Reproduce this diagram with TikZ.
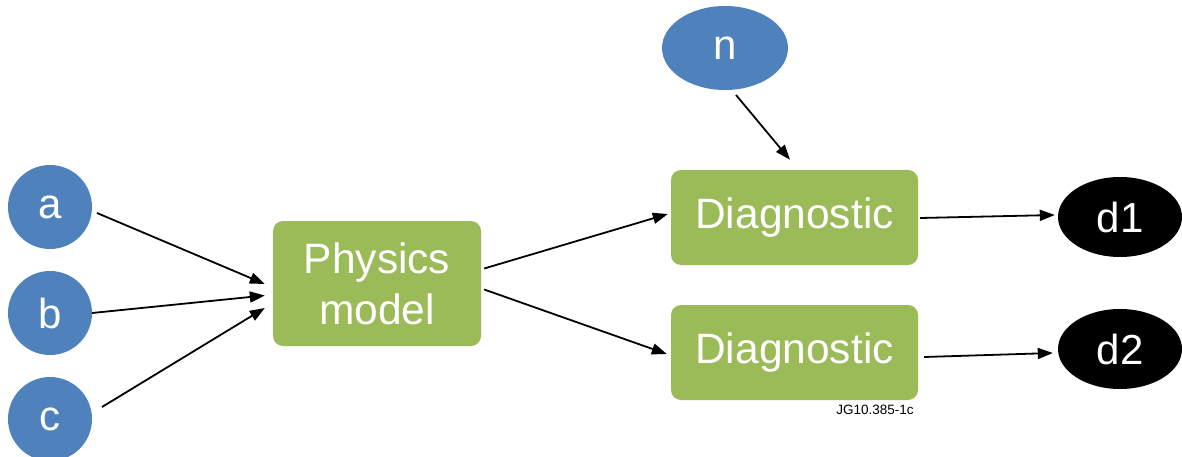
\documentclass[tikz,border=0pt]{standalone}
\usepackage{fontspec}
\setmainfont{Liberation Sans}
\usetikzlibrary{arrows.meta,calc,shapes.geometric}
\definecolor{nblue}{HTML}{4F81BD}
\definecolor{ngreen}{HTML}{9BBB59}
\begin{document}
\begin{tikzpicture}[x=1pt,y=-1pt,
  inp/.style={circle,fill=nblue,minimum size=84pt,inner sep=0pt,text=white,font=\fontsize{42}{48}\selectfont},
  noise/.style={ellipse,fill=nblue,minimum width=126pt,minimum height=84pt,inner sep=0pt,text=white,font=\fontsize{42}{48}\selectfont},
  outp/.style={ellipse,fill=black,minimum width=124pt,minimum height=80pt,inner sep=0pt,text=white,font=\fontsize{42}{48}\selectfont},
  box/.style={rectangle,rounded corners=10pt,fill=ngreen,inner sep=0pt,text=white,align=center,font=\fontsize{42.5}{51}\selectfont},
  arr/.style={line width=1.8pt,-{Triangle[length=15pt,width=11pt]}}]
\clip (0,0) rectangle (1182,457);
\useasboundingbox (0,0) rectangle (1182,457);
\node[inp] (a) at (50,207) {a};
\node[inp] (b) at (50,313) {b};
\node[inp] (c) at (50,419) {c};
\node[noise] (n) at (725,48) {n};
\node[box,minimum width=208pt,minimum height=125pt] (phys) at (377,283.5) {Physics\\model};
\node[box,minimum width=247pt,minimum height=95pt] (diag1) at (794.5,217.5) {Diagnostic};
\node[box,minimum width=247pt,minimum height=95pt] (diag2) at (794.5,352.5) {Diagnostic};
\node[outp] (d1) at (1120,217) {d1};
\node[outp] (d2) at (1120,349) {d2};
\node[anchor=north,font=\fontsize{13.5}{15}\selectfont] (lbl) at (875,402) {JG10.385-1c};
\draw[arr] ($(a)+(47,6)$) -- ($(phys.west)+(-8,0.5)$);
\draw[arr] ($(b)+(42,0)$) -- ($(phys.west)+(-8,12)$);
\draw[arr] ($(c)+(52,-12)$) -- ($(phys.west)+(-8,24.5)$);
\draw[arr] ($(phys.east)+(3,-15)$) -- ($(diag1.west)+(-3,-3.5)$);
\draw[arr] ($(phys.east)+(3,6)$) -- ($(diag2.west)+(-4,1.5)$);
\draw[arr] ($(n)+(11,47)$) -- ($(diag1.north)+(-4.5,-10)$);
\draw[arr] ($(diag1.east)+(2,0.5)$) -- ($(d1.west)+(-3,-2)$);
\draw[arr] ($(diag2.east)+(6,4.5)$) -- ($(d2.west)+(-5,4)$);
\end{tikzpicture}
\end{document}
